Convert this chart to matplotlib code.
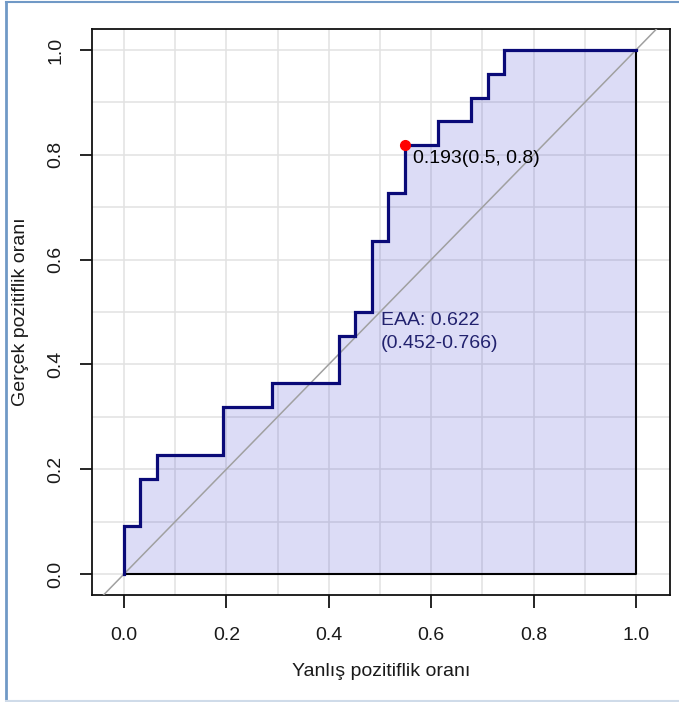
import matplotlib.pyplot as plt
from matplotlib.lines import Line2D

plt.rcParams['font.family'] = ['Liberation Sans', 'DejaVu Sans']

# ROC corner points (false positive rate, true positive rate)
fpr = [0.000, 0.000, 0.032, 0.065, 0.194, 0.290, 0.419, 0.452, 0.484,
       0.516, 0.548, 0.613, 0.677, 0.710, 0.742, 1.000]
tpr = [0.000, 0.091, 0.182, 0.227, 0.318, 0.364, 0.455, 0.500, 0.636,
       0.727, 0.818, 0.864, 0.909, 0.955, 1.000, 1.000]

best_point = (0.548, 0.818)
best_label = '0.193(0.5, 0.8)'
auc_label = 'EAA: 0.622'
ci_label = '(0.452-0.766)'
ticks = [0.0, 0.2, 0.4, 0.6, 0.8, 1.0]

fig = plt.figure(figsize=(6.79, 7.02), dpi=100)
ax = fig.add_axes([92 / 679, 107 / 702, 578 / 679, 566 / 702])

ax.set_xlim(-0.0625, 1.0664)
ax.set_ylim(-0.040, 1.040)

# grid every 0.1
for v in [i / 10 for i in range(11)]:
    ax.axvline(v, color='#e2e2e2', lw=1.1, zorder=0)
    ax.axhline(v, color='#e2e2e2', lw=1.1, zorder=0)

# shaded area under the curve
ax.fill_between(fpr, tpr, 0, step='post', color='#3333cc', alpha=0.17,
                lw=0, zorder=1)
ax.plot([0, 1, 1], [0, 0, 1], color='black', lw=1.5, zorder=2)

# chance line
ax.axline((0, 0), (1, 1), color='#a0a0a0', lw=1.1, zorder=3)

# ROC curve
ax.plot(fpr, tpr, drawstyle='steps-post', color='#0a0a78', lw=2.3,
        zorder=4, solid_joinstyle='miter')

ax.plot(*best_point, 'o', color='#ff0000', markersize=7, zorder=5)
ax.text(0.564, 0.792, best_label, fontsize=14, color='black',
        ha='left', va='center', zorder=6)
ax.text(0.502, 0.483, auc_label, fontsize=14, color='#22226e',
        ha='left', va='center', zorder=6)
ax.text(0.502, 0.440, ci_label, fontsize=14, color='#22226e',
        ha='left', va='center', zorder=6)

ax.set_xticks(ticks)
ax.set_yticks(ticks)
ax.set_xticklabels([f'{t:.1f}' for t in ticks])
ax.set_yticklabels([f'{t:.1f}' for t in ticks], rotation=90, va='center')
ax.tick_params(axis='both', direction='out', length=9, width=1.2,
               labelsize=14, colors='black', labelcolor='#1a1a1a')
ax.tick_params(axis='x', pad=14)
ax.tick_params(axis='y', pad=11)

for s in ax.spines.values():
    s.set_linewidth(1.3)
    s.set_color('#111111')

ax.set_xlabel('Yanlış pozitiflik oranı', fontsize=14, color='#1a1a1a',
              labelpad=14)
ax.set_ylabel('Gerçek pozitiflik oranı', fontsize=14, color='#1a1a1a',
              labelpad=13)

# thin frame around the picture
fig.add_artist(Line2D([6 / 679, 1], [1 - 2 / 702, 1 - 2 / 702],
                      color='#7099c6', lw=1.5, transform=fig.transFigure))
fig.add_artist(Line2D([6 / 679, 6 / 679], [1 / 702, 1 - 2 / 702],
                      color='#7099c6', lw=2, transform=fig.transFigure))
fig.add_artist(Line2D([6 / 679, 1], [1 / 702, 1 / 702],
                      color='#cfdbe9', lw=1.5, transform=fig.transFigure))

fig.savefig('out.png', dpi=100)
